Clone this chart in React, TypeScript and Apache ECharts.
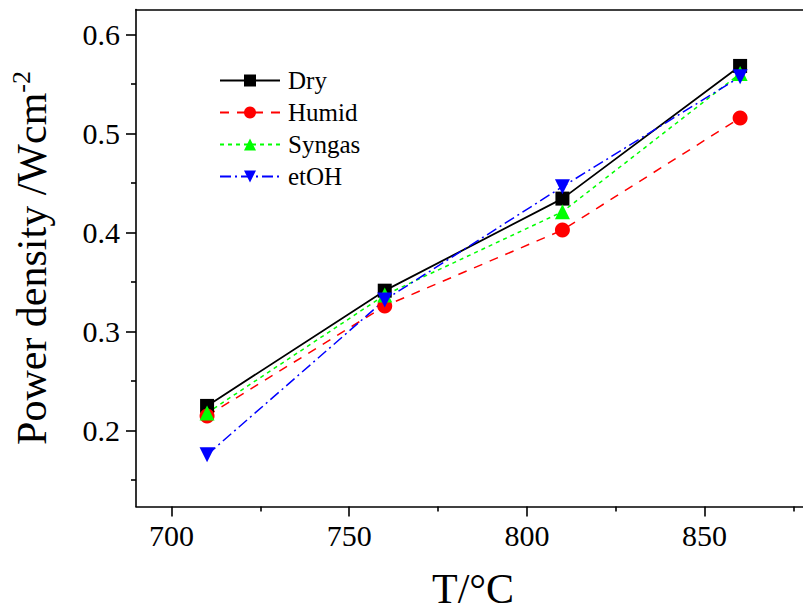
import React, { useEffect, useRef } from "react";
import * as echarts from "echarts";

const temperatures = [710, 760, 810, 860];
const dry = [0.2246, 0.341, 0.434, 0.568];
const humid = [0.2145, 0.3255, 0.4022, 0.5155];
const syngas = [0.2175, 0.3366, 0.4207, 0.5603];
const etoh = [0.1752, 0.3316, 0.446, 0.557];

const xMajorTicks = [700, 750, 800, 850];
const xMinorTicks = [725, 775, 825, 875];
const yMajorTicks = [0.2, 0.3, 0.4, 0.5, 0.6];
const yMinorTicks = [0.15, 0.25, 0.35, 0.45, 0.55];

const FONT = "Liberation Serif";

const pairs = (ys: number[]) => temperatures.map((t, i) => [t, ys[i]]);

export default function App() {
  const ref = useRef<HTMLDivElement>(null);
  useEffect(() => {
    if (!ref.current) return;
    const chart = echarts.init(ref.current, undefined, { renderer: "svg" });
    const axisLine = { show: true, lineStyle: { color: "#000", width: 1.6 } };
    const xMin = 690, xMax = 877.7, yMin = 0.123, yMax = 0.625;
    chart.setOption({
      animation: false,
      backgroundColor: "#fff",
      textStyle: { fontFamily: FONT },
      grid: {
        left: 136,
        top: 9.5,
        right: 0,
        bottom: 108.5,
        show: false,
      },
      xAxis: [
        {
          type: "value",
          min: xMin,
          max: xMax,
          position: "bottom",
          axisLine,
          splitLine: { show: false },
          axisTick: { show: true, length: 10, customValues: xMajorTicks, lineStyle: { color: "#000", width: 1.6 } },
          axisLabel: { customValues: xMajorTicks, color: "#000", fontFamily: FONT, fontSize: 30, margin: 14 },
        },
        {
          type: "value",
          min: xMin,
          max: xMax,
          position: "bottom",
          axisLine: { show: false },
          splitLine: { show: false },
          axisTick: { show: true, length: 5, customValues: xMinorTicks, lineStyle: { color: "#000", width: 1.6 } },
          axisLabel: { show: false },
        },
        {
          type: "value",
          min: xMin,
          max: xMax,
          position: "top",
          axisLine,
          splitLine: { show: false },
          axisTick: { show: false },
          axisLabel: { show: false },
        },
      ],
      yAxis: [
        {
          type: "value",
          min: yMin,
          max: yMax,
          position: "left",
          axisLine,
          splitLine: { show: false },
          axisTick: { show: true, length: 10, customValues: yMajorTicks, lineStyle: { color: "#000", width: 1.6 } },
          axisLabel: {
            customValues: yMajorTicks,
            color: "#000",
            fontFamily: FONT,
            fontSize: 30,
            margin: 16,
            formatter: (v: number) => v.toFixed(1),
          },
          name: "{a|Power density /Wcm}{b|-2}",
          nameLocation: "middle",
          nameGap: 80,
          nameTextStyle: {
            color: "#000",
            fontFamily: FONT,
            fontSize: 42,
            rich: {
              a: { fontFamily: FONT, fontSize: 42, color: "#000" },
              b: { fontFamily: FONT, fontSize: 26, color: "#000", verticalAlign: "top", padding: [0, 0, 22, 0] },
            },
          },
        },
        {
          type: "value",
          min: yMin,
          max: yMax,
          position: "left",
          axisLine: { show: false },
          splitLine: { show: false },
          axisTick: { show: true, length: 5, customValues: yMinorTicks, lineStyle: { color: "#000", width: 1.6 } },
          axisLabel: { show: false },
        },
      ],
      legend: {
        orient: "vertical",
        left: 219,
        top: 68,
        padding: 0,
        itemWidth: 60,
        itemHeight: 15,
        itemGap: 7,
        textStyle: { fontFamily: FONT, fontSize: 25, color: "#000", padding: [0, 0, 0, 3] },
        data: ["Dry", "Humid", "Syngas", "etOH"],
      },
      graphic: [
        {
          type: "text",
          left: 472 - 40,
          top: 568,
          style: { text: "T/°C", font: `42px ${FONT}`, fill: "#000" },
        },
      ],
      series: [
        {
          name: "Dry",
          type: "line",
          data: pairs(dry),
          symbol: "rect",
          symbolSize: 14,
          itemStyle: { color: "#000" },
          lineStyle: { color: "#000", width: 1.8, type: "solid" },
        },
        {
          name: "Humid",
          type: "line",
          data: pairs(humid),
          symbol: "circle",
          symbolSize: 15,
          itemStyle: { color: "#ff0000" },
          lineStyle: { color: "#ff0000", width: 1.5, type: [9, 8] },
        },
        {
          name: "Syngas",
          type: "line",
          data: pairs(syngas),
          symbol: "triangle",
          symbolSize: 15,
          itemStyle: { color: "#00ff00" },
          lineStyle: { color: "#00ff00", width: 1.5, type: [4, 4] },
        },
        {
          name: "etOH",
          type: "line",
          data: pairs(etoh),
          symbol: "triangle",
          symbolRotate: 180,
          symbolSize: 15,
          itemStyle: { color: "#0000ff" },
          lineStyle: { color: "#0000ff", width: 1.5, type: [11, 4, 2, 4] },
        },
      ],
    });
    return () => chart.dispose();
  }, []);
  return <div ref={ref} style={{ position: "absolute", left: 0, top: 0, width: 803, height: 615 }} />;
}
